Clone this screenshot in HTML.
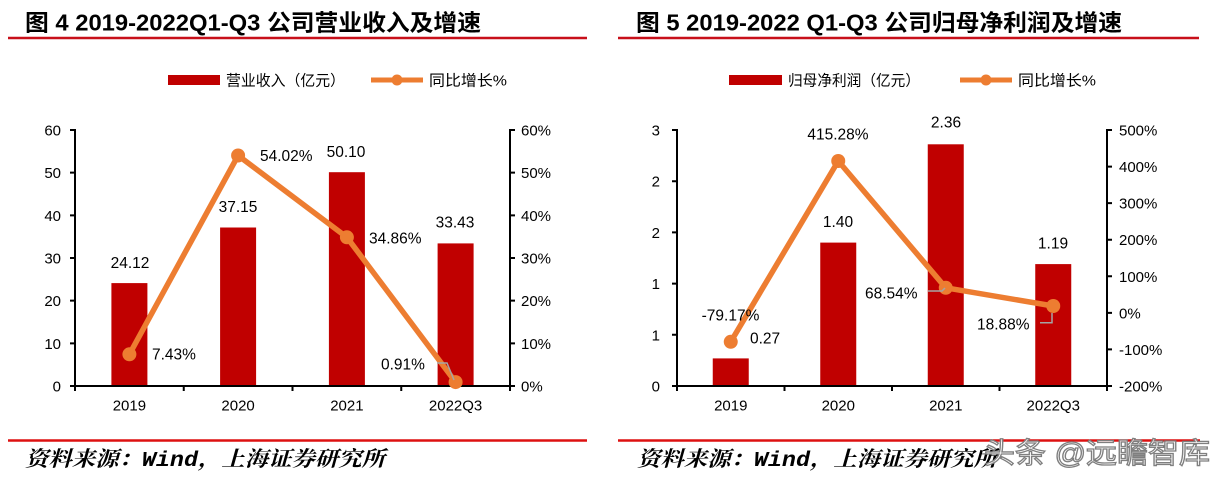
<!DOCTYPE html>
<html><head><meta charset="utf-8"><style>
html,body{margin:0;padding:0;background:#fff;}
svg{display:block;}
text{font-family:"Liberation Sans","Noto Sans CJK SC",sans-serif;fill:#000;}
</style></head><body>
<svg width="1224" height="480" viewBox="0 0 1224 480" xmlns="http://www.w3.org/2000/svg">
<!-- Titles -->
<text x="25" y="30.5" font-size="23" font-weight="bold" textLength="456" lengthAdjust="spacingAndGlyphs">图 4 2019-2022Q1-Q3 公司营业收入及增速</text>
<text x="636" y="30.5" font-size="23" font-weight="bold" textLength="486" lengthAdjust="spacingAndGlyphs">图 5 2019-2022 Q1-Q3 公司归母净利润及增速</text>
<line x1="8" y1="38" x2="587" y2="38" stroke="#c8101a" stroke-width="2.5"/>
<line x1="618" y1="38" x2="1199" y2="38" stroke="#c8101a" stroke-width="2.5"/>

<!-- Legends -->
<rect x="168" y="75" width="52" height="10" fill="#c00000"/>
<text x="226" y="85.5" font-size="15" textLength="119" lengthAdjust="spacingAndGlyphs">营业收入（亿元）</text>
<line x1="371" y1="80" x2="423" y2="80" stroke="#ed7d31" stroke-width="5"/>
<circle cx="397" cy="80" r="5.5" fill="#ed7d31"/>
<text x="429" y="85.5" font-size="15" textLength="78" lengthAdjust="spacingAndGlyphs">同比增长%</text>

<rect x="729" y="75" width="53" height="10" fill="#c00000"/>
<text x="788" y="85.5" font-size="15" textLength="132" lengthAdjust="spacingAndGlyphs">归母净利润（亿元）</text>
<line x1="960" y1="80" x2="1012" y2="80" stroke="#ed7d31" stroke-width="5"/>
<circle cx="986" cy="80" r="5.5" fill="#ed7d31"/>
<text x="1018" y="85.5" font-size="15" textLength="78" lengthAdjust="spacingAndGlyphs">同比增长%</text>

<!-- LEFT CHART -->
<g fill="#c00000">
<rect x="111.4" y="283.1" width="36" height="102.9"/>
<rect x="220.1" y="227.5" width="36" height="158.5"/>
<rect x="328.9" y="172.2" width="36" height="213.8"/>
<rect x="437.6" y="243.4" width="36" height="142.6"/>
</g>
<g stroke="#000" stroke-width="2" fill="none">
<line x1="75" y1="129" x2="75" y2="387"/>
<line x1="510" y1="129" x2="510" y2="387"/>
<line x1="74" y1="386" x2="511" y2="386"/>
<path d="M70 130H75M70 172.67H75M70 215.33H75M70 258H75M70 300.67H75M70 343.33H75M70 386H75"/>
<path d="M510 130H515M510 172.67H515M510 215.33H515M510 258H515M510 300.67H515M510 343.33H515M510 386H515"/>
<path d="M75 386V391M183.75 386V391M292.5 386V391M401.25 386V391M510 386V391"/>
</g>
<g font-size="15" text-anchor="end">
<text x="61" y="135.5">60</text>
<text x="61" y="178">50</text>
<text x="61" y="220.8">40</text>
<text x="61" y="263.5">30</text>
<text x="61" y="306">20</text>
<text x="61" y="348.8">10</text>
<text x="61" y="391.5">0</text>
</g>
<g font-size="15">
<text x="521" y="135.5">60%</text>
<text x="521" y="178">50%</text>
<text x="521" y="220.8">40%</text>
<text x="521" y="263.5">30%</text>
<text x="521" y="306">20%</text>
<text x="521" y="348.8">10%</text>
<text x="521" y="391.5">0%</text>
</g>
<g font-size="15" text-anchor="middle">
<text x="129.4" y="410.5">2019</text>
<text x="238.1" y="410.5">2020</text>
<text x="346.9" y="410.5">2021</text>
<text x="455.6" y="410.5">2022Q3</text>
</g>
<polyline points="129.4,354.3 238.1,155.5 346.9,237.3 455.6,382.1" fill="none" stroke="#ed7d31" stroke-width="5.5" stroke-linejoin="round"/>
<g fill="#ed7d31">
<circle cx="129.4" cy="354.3" r="7"/>
<circle cx="238.1" cy="155.5" r="7"/>
<circle cx="346.9" cy="237.3" r="7"/>
<circle cx="455.6" cy="382.1" r="7"/>
</g>
<polyline points="437,363 447,363 454,380" fill="none" stroke="#a5a5a5" stroke-width="1.5"/>
<g font-size="15.5">
<text x="130" y="268" text-anchor="middle">24.12</text>
<text x="238" y="212" text-anchor="middle">37.15</text>
<text x="346" y="157" text-anchor="middle">50.10</text>
<text x="455" y="227.5" text-anchor="middle">33.43</text>
<text x="260" y="161">54.02%</text>
<text x="369" y="243.5">34.86%</text>
<text x="152" y="359.5">7.43%</text>
<text x="381" y="369.5">0.91%</text>
</g>

<!-- RIGHT CHART -->
<g fill="#c00000">
<rect x="712.75" y="358.4" width="36" height="27.6"/>
<rect x="820.25" y="242.6" width="36" height="143.4"/>
<rect x="927.75" y="144.3" width="36" height="241.7"/>
<rect x="1035.25" y="264.1" width="36" height="121.9"/>
</g>
<g stroke="#000" stroke-width="2" fill="none">
<line x1="677" y1="129" x2="677" y2="387"/>
<line x1="1107" y1="129" x2="1107" y2="387"/>
<line x1="676" y1="386" x2="1108" y2="386"/>
<path d="M672 130H677M672 181.2H677M672 232.4H677M672 283.6H677M672 334.8H677M672 386H677"/>
<path d="M1107 130H1112M1107 166.57H1112M1107 203.14H1112M1107 239.71H1112M1107 276.29H1112M1107 312.86H1112M1107 349.43H1112M1107 386H1112"/>
<path d="M677 386V391M784.5 386V391M892 386V391M999.5 386V391M1107 386V391"/>
</g>
<g font-size="15" text-anchor="end">
<text x="660" y="135.5">3</text>
<text x="660" y="186.7">2</text>
<text x="660" y="237.9">2</text>
<text x="660" y="289.1">1</text>
<text x="660" y="340.3">1</text>
<text x="660" y="391.5">0</text>
</g>
<g font-size="15">
<text x="1119" y="135.5">500%</text>
<text x="1119" y="172">400%</text>
<text x="1119" y="208.6">300%</text>
<text x="1119" y="245.2">200%</text>
<text x="1119" y="281.8">100%</text>
<text x="1119" y="318.4">0%</text>
<text x="1119" y="354.9">-100%</text>
<text x="1119" y="391.5">-200%</text>
</g>
<g font-size="15" text-anchor="middle">
<text x="730.75" y="410.5">2019</text>
<text x="838.25" y="410.5">2020</text>
<text x="945.75" y="410.5">2021</text>
<text x="1053.25" y="410.5">2022Q3</text>
</g>
<polyline points="730.75,341.8 838.25,161 945.75,287.8 1053.25,306" fill="none" stroke="#ed7d31" stroke-width="5.5" stroke-linejoin="round"/>
<g fill="#ed7d31">
<circle cx="730.75" cy="341.8" r="7"/>
<circle cx="838.25" cy="161" r="7"/>
<circle cx="945.75" cy="287.8" r="7"/>
<circle cx="1053.25" cy="306" r="7"/>
</g>
<polyline points="928,291 942,291 945,288" fill="none" stroke="#a5a5a5" stroke-width="1.5"/>
<polyline points="1040,322.7 1052,322.7 1052,313" fill="none" stroke="#a5a5a5" stroke-width="1.5"/>
<g font-size="15.5">
<text x="730.5" y="320.5" text-anchor="middle">-79.17%</text>
<text x="750" y="343.5">0.27</text>
<text x="838" y="139.5" text-anchor="middle">415.28%</text>
<text x="838" y="227" text-anchor="middle">1.40</text>
<text x="946" y="127.5" text-anchor="middle">2.36</text>
<text x="865" y="298.5">68.54%</text>
<text x="977" y="329.5">18.88%</text>
<text x="1053" y="248.5" text-anchor="middle">1.19</text>
</g>

<!-- Footers -->
<line x1="8" y1="440.5" x2="587" y2="440.5" stroke="#dd1111" stroke-width="2.5"/>
<line x1="618" y1="440.5" x2="1200" y2="440.5" stroke="#dd1111" stroke-width="2.5"/>
<text x="25" y="466" font-size="21" font-weight="bold" font-style="italic" textLength="360" lengthAdjust="spacingAndGlyphs" style="font-family:'Liberation Mono','Noto Serif CJK SC',serif">资料来源：Wind，上海证券研究所</text>
<text x="637" y="466" font-size="21" font-weight="bold" font-style="italic" textLength="360" lengthAdjust="spacingAndGlyphs" style="font-family:'Liberation Mono','Noto Serif CJK SC',serif">资料来源：Wind，上海证券研究所</text>
<text x="984" y="463" font-size="29" textLength="226" lengthAdjust="spacingAndGlyphs" style="fill:rgba(255,255,255,0.85);stroke:#7f7f7f;stroke-width:1.3">头条 @远瞻智库</text>
</svg>
</body></html>
